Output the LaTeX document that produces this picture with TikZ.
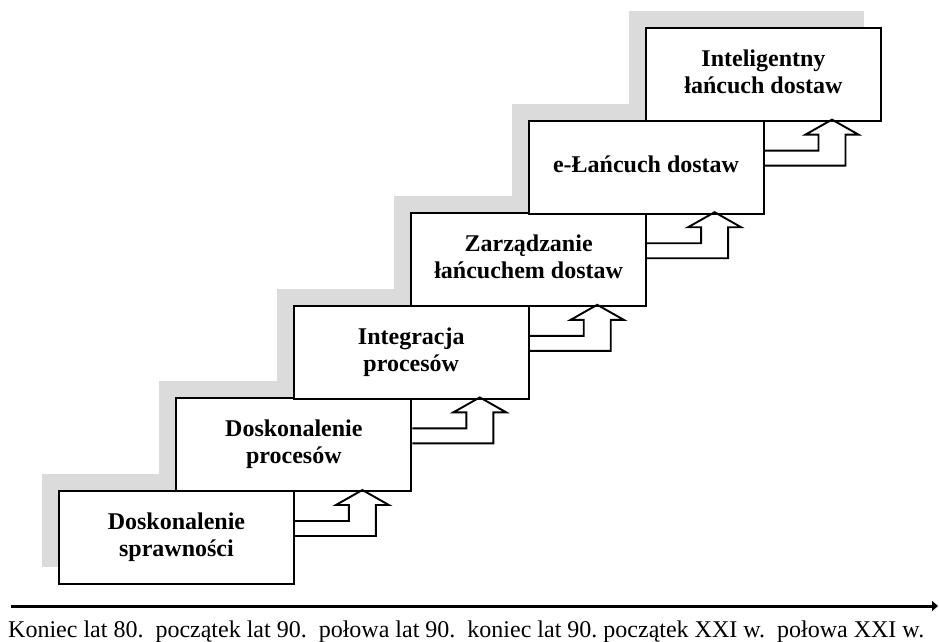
\documentclass[tikz,border=0pt]{standalone}
\usepackage{fontspec}
\setmainfont{Liberation Serif}
\usetikzlibrary{arrows.meta,calc}
\frenchspacing
\tikzset{
  stepshadow/.style={fill=black!14, draw=none},
  stepbox/.style={draw=black, line width=1.9pt, fill=white, minimum width=235pt, minimum height=93pt, anchor=north west, inner sep=0pt,
    font=\fontsize{24}{27}\selectfont\bfseries},
  blockarrow/.style={draw=black, line width=1.9pt, line join=miter},
  axisline/.style={line width=3pt, -{Triangle[length=6pt,width=10pt]}},
  axistext/.style={font=\fontsize{24}{28}\selectfont, anchor=base west, inner sep=0pt}
}
\newcommand{\boxlabel}[1]{\raisebox{4.5pt}{\begin{tabular}{@{}c@{}}#1\end{tabular}}}
\begin{document}
\begin{tikzpicture}[x=1pt,y=-1pt]
\useasboundingbox (0,0) rectangle (939,642);
% shadows
\foreach \i in {0,...,5}{
  \pgfmathsetmacro{\L}{58+117.4*\i}
  \pgfmathsetmacro{\T}{490-92.6*\i}
  \fill[stepshadow] (\L-16,\T-16) rectangle ++(235,93);
}
% boxes
\node[stepbox] (b0) at (58,490) {\boxlabel{Doskonalenie\\sprawności}};
\node[stepbox] (b1) at (175.4,397.4) {\boxlabel{Doskonalenie\\procesów}};
\node[stepbox] (b2) at (292.8,304.8) {\boxlabel{Integracja\\procesów}};
\node[stepbox] (b3) at (410.2,212.2) {\boxlabel{Zarządzanie\\łańcuchem dostaw}};
\node[stepbox] (b4) at (527.6,119.6) {\boxlabel{e-Łańcuch dostaw}};
\node[stepbox] (b5) at (645,27) {\boxlabel{Inteligentny\\łańcuch dostaw}};
% block arrows
\foreach \i in {0,...,4}{
  \draw[blockarrow] ([yshift=-31pt]b\i.north east) -- ++(54,0) -- ++(0,-16) -- ++(-13,0)
    -- ++(26.5,-15) -- ++(26.5,15) -- ++(-13,0) -- ++(0,31) -- ++(-81,0);
}
% time axis
\coordinate (a0) at (11,606);
\coordinate (a1) at (938,606);
\draw[axisline] (a0) -- (a1);
\node[axistext] (axt) at (8,637) {Koniec lat 80.\ \ początek lat 90.\ \ połowa lat 90.\ \ koniec lat 90. początek XXI w.\ \ połowa XXI w.};
\end{tikzpicture}
\end{document}
